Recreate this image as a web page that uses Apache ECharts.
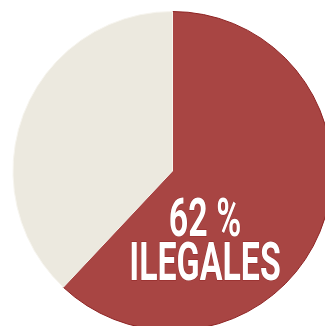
<!DOCTYPE html>
<html>
<head>
<meta charset="utf-8">
<script src="https://cdn.jsdelivr.net/npm/echarts@6/dist/echarts.min.js"></script>
<style>
  html, body { margin: 0; padding: 0; background: #ffffff; }
  #chart { width: 325px; height: 326px; }
</style>
</head>
<body>
<div id="chart"></div>
<script>
// Share of illegal vs. other
const categories = ['Ilegales', 'Otros'];
const values = [62, 38];
const headline = 'ILEGALES';

const sliceColors = ['#a84543', '#ece9df'];

const chart = echarts.init(document.getElementById('chart'), null, { renderer: 'canvas' });

chart.setOption({
  animation: false,
  backgroundColor: '#ffffff',
  series: [{
    type: 'pie',
    center: [172.5, 171],
    radius: 159.5,
    startAngle: 90,
    clockwise: true,
    label: { show: false },
    labelLine: { show: false },
    emphasis: { disabled: true },
    data: categories.map((name, i) => ({
      name,
      value: values[i],
      itemStyle: i === 0
        ? { color: sliceColors[i], borderColor: '#8e2323', borderWidth: 1 }
        : { color: sliceColors[i], borderColor: '#f7f5ef', borderWidth: 1 }
    }))
  }],
  graphic: [{
    type: 'text',
    z: 100,
    x: 205,
    y: 201,
    scaleX: 0.64,
    style: {
      text: values[0] + ' %\n' + headline,
      fill: '#ffffff',
      stroke: '#8e2323',
      lineWidth: 1,
      font: 'bold 53px Roboto, sans-serif',
      lineHeight: 44,
      align: 'center',
      verticalAlign: 'top'
    }
  }]
});
</script>
</body>
</html>
